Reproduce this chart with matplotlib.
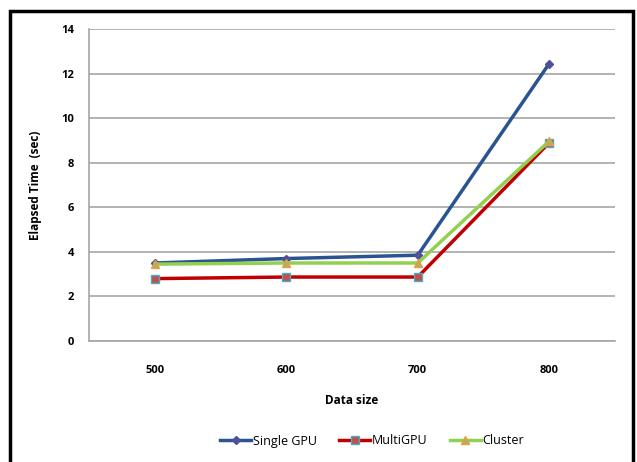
import numpy as np
import matplotlib
matplotlib.use("Agg")
import matplotlib.pyplot as plt
from matplotlib.patches import Rectangle

sizes = ["500", "600", "700", "800"]
single_gpu = [3.5, 3.7, 3.85, 12.45]
multi_gpu = [2.8, 2.87, 2.87, 8.9]
cluster = [3.45, 3.5, 3.5, 8.97]

plt.rcParams['font.family'] = ['Open Sans', 'DejaVu Sans']

fig = plt.figure(figsize=(6.37, 4.62), dpi=100)
ax = fig.add_axes([89/637, 1-341/462, (615-89)/637, (341-29)/462])

x = np.arange(len(sizes))
ax.plot(x, single_gpu, color="#2A5490", lw=2.5, marker="D", ms=4,
        mfc="#4F4F9A", mec="#4F4F9A", label="Single GPU", zorder=3)
ax.plot(x, multi_gpu, color="#C00000", lw=2.5, marker="s", ms=6,
        mfc="#C0504D", mec="#4BACC6", mew=1, label="MultiGPU", zorder=3)
ax.plot(x, cluster, color="#92D050", lw=2.5, marker="^", ms=6,
        mfc="#9BBB59", mec="#F79646", mew=1, label="Cluster", zorder=3)

ax.set_xlim(-0.5, 3.5)
ax.set_ylim(0, 14)
ax.set_yticks(range(0, 15, 2))
ax.set_xticks(x)
ax.set_xticklabels(sizes)
ax.tick_params(axis="x", length=0, labelsize=8, pad=17)
ax.tick_params(axis="y", length=0, labelsize=8, pad=11)
for t in ax.get_xticklabels() + ax.get_yticklabels():
    t.set_fontweight("bold")
ax.grid(axis="y", color="#A6A6A6", lw=1.2)
ax.set_axisbelow(True)
for s in ["top", "right"]:
    ax.spines[s].set_visible(False)
for s in ["left", "bottom"]:
    ax.spines[s].set_color("#A6A6A6")
    ax.spines[s].set_linewidth(1.2)

ax.set_xlabel("Data size", fontsize=8.5, fontweight="bold", va="center")
ax.set_ylabel("Elapsed Time  (sec)", fontsize=8.5, fontweight="bold", va="center")
ax.xaxis.set_label_coords(0.5, (341-400)/312)
ax.yaxis.set_label_coords((35-89)/526, 0.5)

fig.legend(loc="center", bbox_to_anchor=(372/637, 1-441/462), ncol=3,
           frameon=False, fontsize=9, handlelength=2.5, columnspacing=1.8,
           handletextpad=0.1)

fig.patches.append(Rectangle((10/637, -0.05), 623/637, 1.05-11/462,
                             transform=fig.transFigure, fill=False,
                             lw=2.5, ec="black"))

fig.savefig("out.png", dpi=100)
